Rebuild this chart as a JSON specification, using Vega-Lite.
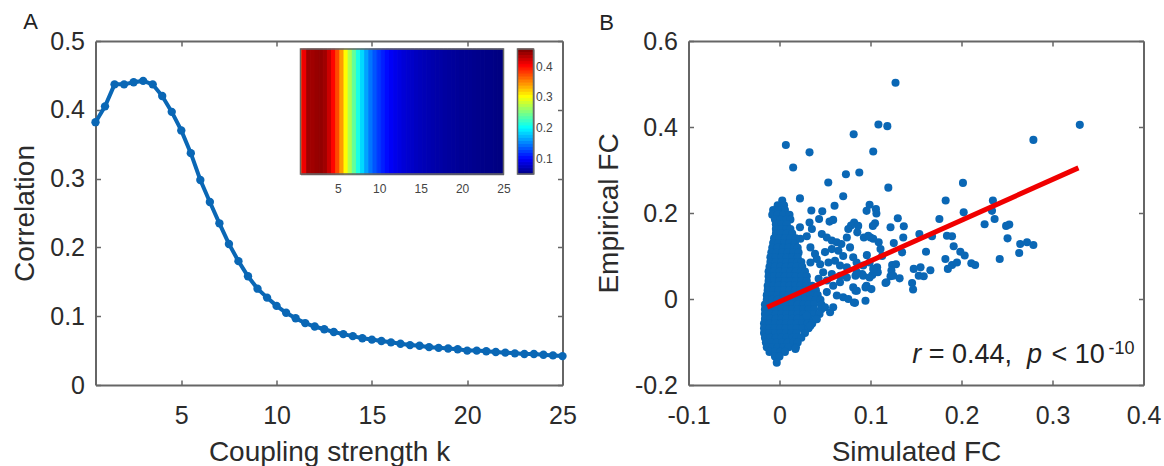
{"$schema":"https://vega.github.io/schema/vega-lite/v6.json","background":"white","padding":{"left":10.5,"top":11,"right":25,"bottom":0},"bounds":"flush","spacing":126,
"config":{"font":"Liberation Sans","view":{"stroke":null},"axis":{"grid":false,"domainColor":"#666","domainWidth":2,"tickColor":"#666","tickWidth":1.5,"labelColor":"#2b2b2b","titleColor":"#2b2b2b","labelFont":"Liberation Sans","titleFont":"Liberation Sans","labelFontSize":25,"titleFontSize":28,"titleFontWeight":"normal","tickSize":-5,"labelPadding":16,"labelFlush":false,"labelOverlap":false}},
"datasets":{
"curve":[{"k":0.5,"lo":0.5,"hi":0.75,"c":0.382},{"k":1,"lo":0.75,"hi":1.25,"c":0.405},{"k":1.5,"lo":1.25,"hi":1.75,"c":0.437},{"k":2,"lo":1.75,"hi":2.25,"c":0.437},{"k":2.5,"lo":2.25,"hi":2.75,"c":0.44},{"k":3,"lo":2.75,"hi":3.25,"c":0.442},{"k":3.5,"lo":3.25,"hi":3.75,"c":0.437},{"k":4,"lo":3.75,"hi":4.25,"c":0.42},{"k":4.5,"lo":4.25,"hi":4.75,"c":0.397},{"k":5,"lo":4.75,"hi":5.25,"c":0.37},{"k":5.5,"lo":5.25,"hi":5.75,"c":0.337},{"k":6,"lo":5.75,"hi":6.25,"c":0.298},{"k":6.5,"lo":6.25,"hi":6.75,"c":0.266},{"k":7,"lo":6.75,"hi":7.25,"c":0.235},{"k":7.5,"lo":7.25,"hi":7.75,"c":0.205},{"k":8,"lo":7.75,"hi":8.25,"c":0.18},{"k":8.5,"lo":8.25,"hi":8.75,"c":0.158},{"k":9,"lo":8.75,"hi":9.25,"c":0.14},{"k":9.5,"lo":9.25,"hi":9.75,"c":0.127},{"k":10,"lo":9.75,"hi":10.25,"c":0.115},{"k":10.5,"lo":10.25,"hi":10.75,"c":0.105},{"k":11,"lo":10.75,"hi":11.25,"c":0.097},{"k":11.5,"lo":11.25,"hi":11.75,"c":0.09},{"k":12,"lo":11.75,"hi":12.25,"c":0.085},{"k":12.5,"lo":12.25,"hi":12.75,"c":0.081},{"k":13,"lo":12.75,"hi":13.25,"c":0.077},{"k":13.5,"lo":13.25,"hi":13.75,"c":0.074},{"k":14,"lo":13.75,"hi":14.25,"c":0.071},{"k":14.5,"lo":14.25,"hi":14.75,"c":0.068},{"k":15,"lo":14.75,"hi":15.25,"c":0.066},{"k":15.5,"lo":15.25,"hi":15.75,"c":0.064},{"k":16,"lo":15.75,"hi":16.25,"c":0.062},{"k":16.5,"lo":16.25,"hi":16.75,"c":0.06},{"k":17,"lo":16.75,"hi":17.25,"c":0.058},{"k":17.5,"lo":17.25,"hi":17.75,"c":0.057},{"k":18,"lo":17.75,"hi":18.25,"c":0.055},{"k":18.5,"lo":18.25,"hi":18.75,"c":0.054},{"k":19,"lo":18.75,"hi":19.25,"c":0.053},{"k":19.5,"lo":19.25,"hi":19.75,"c":0.052},{"k":20,"lo":19.75,"hi":20.25,"c":0.05},{"k":20.5,"lo":20.25,"hi":20.75,"c":0.05},{"k":21,"lo":20.75,"hi":21.25,"c":0.049},{"k":21.5,"lo":21.25,"hi":21.75,"c":0.048},{"k":22,"lo":21.75,"hi":22.25,"c":0.047},{"k":22.5,"lo":22.25,"hi":22.75,"c":0.046},{"k":23,"lo":22.75,"hi":23.25,"c":0.045},{"k":23.5,"lo":23.25,"hi":23.75,"c":0.045},{"k":24,"lo":23.75,"hi":24.25,"c":0.044},{"k":24.5,"lo":24.25,"hi":24.75,"c":0.043},{"k":25,"lo":24.75,"hi":25,"c":0.042}],
"bar":[{"v":0.048,"w":0.058},{"v":0.058,"w":0.068},{"v":0.068,"w":0.078},{"v":0.078,"w":0.088},{"v":0.088,"w":0.098},{"v":0.098,"w":0.108},{"v":0.108,"w":0.118},{"v":0.118,"w":0.128},{"v":0.128,"w":0.138},{"v":0.138,"w":0.148},{"v":0.148,"w":0.158},{"v":0.158,"w":0.168},{"v":0.168,"w":0.178},{"v":0.178,"w":0.188},{"v":0.188,"w":0.198},{"v":0.198,"w":0.208},{"v":0.208,"w":0.218},{"v":0.218,"w":0.228},{"v":0.228,"w":0.238},{"v":0.238,"w":0.248},{"v":0.248,"w":0.258},{"v":0.258,"w":0.268},{"v":0.268,"w":0.278},{"v":0.278,"w":0.288},{"v":0.288,"w":0.298},{"v":0.298,"w":0.308},{"v":0.308,"w":0.318},{"v":0.318,"w":0.328},{"v":0.328,"w":0.338},{"v":0.338,"w":0.348},{"v":0.348,"w":0.358},{"v":0.358,"w":0.368},{"v":0.368,"w":0.378},{"v":0.378,"w":0.388},{"v":0.388,"w":0.398},{"v":0.398,"w":0.408},{"v":0.408,"w":0.418},{"v":0.418,"w":0.428},{"v":0.428,"w":0.438},{"v":0.438,"w":0.448},{"v":0.448,"w":0.456}],
"scatter":[{"x":0.003,"y":0.229},{"x":-0.002,"y":0.218},{"x":0.005,"y":0.218},{"x":-0.007,"y":0.207},{"x":-0.001,"y":0.207},{"x":0.006,"y":0.207},{"x":-0.008,"y":0.196},{"x":-0.002,"y":0.196},{"x":0.004,"y":0.196},{"x":0.011,"y":0.196},{"x":-0.005,"y":0.185},{"x":0.001,"y":0.185},{"x":0.008,"y":0.185},{"x":0.012,"y":0.185},{"x":-0.004,"y":0.174},{"x":0.002,"y":0.174},{"x":0.008,"y":0.174},{"x":-0.004,"y":0.163},{"x":0.002,"y":0.163},{"x":0.008,"y":0.163},{"x":0.012,"y":0.163},{"x":-0.004,"y":0.152},{"x":0.002,"y":0.152},{"x":0.008,"y":0.152},{"x":0.014,"y":0.152},{"x":-0.006,"y":0.141},{"x":0,"y":0.141},{"x":0.006,"y":0.141},{"x":0.012,"y":0.141},{"x":0.018,"y":0.141},{"x":-0.007,"y":0.13},{"x":-0.001,"y":0.13},{"x":0.005,"y":0.13},{"x":0.011,"y":0.13},{"x":0.017,"y":0.13},{"x":-0.008,"y":0.119},{"x":-0.002,"y":0.119},{"x":0.004,"y":0.119},{"x":0.01,"y":0.119},{"x":0.016,"y":0.119},{"x":0.02,"y":0.119},{"x":-0.009,"y":0.108},{"x":-0.003,"y":0.108},{"x":0.003,"y":0.108},{"x":0.009,"y":0.108},{"x":0.015,"y":0.108},{"x":0.021,"y":0.108},{"x":-0.01,"y":0.097},{"x":-0.004,"y":0.097},{"x":0.002,"y":0.097},{"x":0.008,"y":0.097},{"x":0.014,"y":0.097},{"x":0.02,"y":0.097},{"x":-0.01,"y":0.086},{"x":-0.004,"y":0.086},{"x":0.002,"y":0.086},{"x":0.008,"y":0.086},{"x":0.014,"y":0.086},{"x":0.02,"y":0.086},{"x":0.024,"y":0.086},{"x":-0.011,"y":0.075},{"x":-0.005,"y":0.075},{"x":0.001,"y":0.075},{"x":0.007,"y":0.075},{"x":0.013,"y":0.075},{"x":0.019,"y":0.075},{"x":0.025,"y":0.075},{"x":-0.012,"y":0.064},{"x":-0.006,"y":0.064},{"x":0,"y":0.064},{"x":0.006,"y":0.064},{"x":0.012,"y":0.064},{"x":0.018,"y":0.064},{"x":0.024,"y":0.064},{"x":0.028,"y":0.064},{"x":-0.012,"y":0.053},{"x":-0.006,"y":0.053},{"x":0,"y":0.053},{"x":0.006,"y":0.053},{"x":0.012,"y":0.053},{"x":0.018,"y":0.053},{"x":0.024,"y":0.053},{"x":0.03,"y":0.053},{"x":-0.012,"y":0.042},{"x":-0.006,"y":0.042},{"x":0,"y":0.042},{"x":0.006,"y":0.042},{"x":0.012,"y":0.042},{"x":0.018,"y":0.042},{"x":0.024,"y":0.042},{"x":0.03,"y":0.042},{"x":-0.013,"y":0.031},{"x":-0.007,"y":0.031},{"x":-0.001,"y":0.031},{"x":0.005,"y":0.031},{"x":0.011,"y":0.031},{"x":0.017,"y":0.031},{"x":0.023,"y":0.031},{"x":0.029,"y":0.031},{"x":0.036,"y":0.031},{"x":-0.013,"y":0.02},{"x":-0.007,"y":0.02},{"x":-0.001,"y":0.02},{"x":0.005,"y":0.02},{"x":0.011,"y":0.02},{"x":0.017,"y":0.02},{"x":0.023,"y":0.02},{"x":0.029,"y":0.02},{"x":0.035,"y":0.02},{"x":0.04,"y":0.02},{"x":-0.014,"y":0.009},{"x":-0.008,"y":0.009},{"x":-0.002,"y":0.009},{"x":0.004,"y":0.009},{"x":0.01,"y":0.009},{"x":0.016,"y":0.009},{"x":0.022,"y":0.009},{"x":0.028,"y":0.009},{"x":0.034,"y":0.009},{"x":0.042,"y":0.009},{"x":-0.014,"y":-0.002},{"x":-0.008,"y":-0.002},{"x":-0.002,"y":-0.002},{"x":0.004,"y":-0.002},{"x":0.01,"y":-0.002},{"x":0.016,"y":-0.002},{"x":0.022,"y":-0.002},{"x":0.028,"y":-0.002},{"x":0.034,"y":-0.002},{"x":0.04,"y":-0.002},{"x":0.045,"y":-0.002},{"x":-0.016,"y":-0.013},{"x":-0.01,"y":-0.013},{"x":-0.004,"y":-0.013},{"x":0.002,"y":-0.013},{"x":0.008,"y":-0.013},{"x":0.014,"y":-0.013},{"x":0.02,"y":-0.013},{"x":0.026,"y":-0.013},{"x":0.032,"y":-0.013},{"x":0.038,"y":-0.013},{"x":0.046,"y":-0.013},{"x":-0.016,"y":-0.024},{"x":-0.01,"y":-0.024},{"x":-0.004,"y":-0.024},{"x":0.002,"y":-0.024},{"x":0.008,"y":-0.024},{"x":0.014,"y":-0.024},{"x":0.02,"y":-0.024},{"x":0.026,"y":-0.024},{"x":0.032,"y":-0.024},{"x":0.038,"y":-0.024},{"x":0.046,"y":-0.024},{"x":-0.016,"y":-0.035},{"x":-0.01,"y":-0.035},{"x":-0.004,"y":-0.035},{"x":0.002,"y":-0.035},{"x":0.008,"y":-0.035},{"x":0.014,"y":-0.035},{"x":0.02,"y":-0.035},{"x":0.026,"y":-0.035},{"x":0.032,"y":-0.035},{"x":0.038,"y":-0.035},{"x":0.044,"y":-0.035},{"x":-0.016,"y":-0.046},{"x":-0.01,"y":-0.046},{"x":-0.004,"y":-0.046},{"x":0.002,"y":-0.046},{"x":0.008,"y":-0.046},{"x":0.014,"y":-0.046},{"x":0.02,"y":-0.046},{"x":0.026,"y":-0.046},{"x":0.032,"y":-0.046},{"x":0.04,"y":-0.046},{"x":-0.017,"y":-0.057},{"x":-0.011,"y":-0.057},{"x":-0.005,"y":-0.057},{"x":0.001,"y":-0.057},{"x":0.007,"y":-0.057},{"x":0.013,"y":-0.057},{"x":0.019,"y":-0.057},{"x":0.025,"y":-0.057},{"x":0.031,"y":-0.057},{"x":0.036,"y":-0.057},{"x":-0.017,"y":-0.068},{"x":-0.011,"y":-0.068},{"x":-0.005,"y":-0.068},{"x":0.001,"y":-0.068},{"x":0.007,"y":-0.068},{"x":0.013,"y":-0.068},{"x":0.019,"y":-0.068},{"x":0.025,"y":-0.068},{"x":0.032,"y":-0.068},{"x":-0.017,"y":-0.079},{"x":-0.011,"y":-0.079},{"x":-0.005,"y":-0.079},{"x":0.001,"y":-0.079},{"x":0.007,"y":-0.079},{"x":0.013,"y":-0.079},{"x":0.019,"y":-0.079},{"x":0.028,"y":-0.079},{"x":-0.016,"y":-0.09},{"x":-0.01,"y":-0.09},{"x":-0.004,"y":-0.09},{"x":0.002,"y":-0.09},{"x":0.008,"y":-0.09},{"x":0.014,"y":-0.09},{"x":0.019,"y":-0.09},{"x":0.024,"y":-0.09},{"x":-0.015,"y":-0.101},{"x":-0.009,"y":-0.101},{"x":-0.003,"y":-0.101},{"x":0.003,"y":-0.101},{"x":0.009,"y":-0.101},{"x":0.015,"y":-0.101},{"x":0.02,"y":-0.101},{"x":-0.014,"y":-0.112},{"x":-0.008,"y":-0.112},{"x":-0.002,"y":-0.112},{"x":0.004,"y":-0.112},{"x":0.01,"y":-0.112},{"x":0.018,"y":-0.112},{"x":-0.011,"y":-0.123},{"x":-0.005,"y":-0.123},{"x":0.001,"y":-0.123},{"x":0.006,"y":-0.123},{"x":-0.005,"y":-0.134},{"x":0,"y":-0.134},{"x":-0.003,"y":-0.148},{"x":0.1275,"y":0.503},{"x":0.1087,"y":0.406},{"x":0.1185,"y":0.402},{"x":0.0815,"y":0.383},{"x":0.007,"y":0.358},{"x":0.033,"y":0.341},{"x":0.103,"y":0.343},{"x":0.015,"y":0.306},{"x":0.073,"y":0.29},{"x":0.0877,"y":0.294},{"x":0.0536,"y":0.271},{"x":0.1196,"y":0.259},{"x":0.07,"y":0.239},{"x":0.0225,"y":0.234},{"x":0.0605,"y":0.217},{"x":0.099,"y":0.219},{"x":0.0957,"y":0.205},{"x":0.106,"y":0.209},{"x":0.1065,"y":0.199},{"x":0.035,"y":0.206},{"x":0.047,"y":0.204},{"x":0.0435,"y":0.186},{"x":0.13,"y":0.188},{"x":0.033,"y":0.178},{"x":0.055,"y":0.18},{"x":0.059,"y":0.184},{"x":0.082,"y":0.178},{"x":0.0786,"y":0.171},{"x":0.105,"y":0.176},{"x":0.122,"y":0.167},{"x":0.1366,"y":0.169},{"x":0.0225,"y":0.167},{"x":0.33,"y":0.405},{"x":0.279,"y":0.37},{"x":0.2016,"y":0.27},{"x":0.1826,"y":0.229},{"x":0.1026,"y":0.17},{"x":0.0855,"y":0.155},{"x":0.136,"y":0.143},{"x":0.1757,"y":0.186},{"x":0.2024,"y":0.2015},{"x":0.2345,"y":0.229},{"x":0.2335,"y":0.205},{"x":0.2364,"y":0.186},{"x":0.2254,"y":0.174},{"x":0.249,"y":0.17},{"x":0.2525,"y":0.173},{"x":0.2506,"y":0.141},{"x":0.2645,"y":0.128},{"x":0.272,"y":0.132},{"x":0.279,"y":0.1256},{"x":0.2634,"y":0.107},{"x":0.242,"y":0.093},{"x":0.1537,"y":0.151},{"x":0.1676,"y":0.146},{"x":0.184,"y":0.147},{"x":0.1896,"y":0.146},{"x":0.1914,"y":0.1225},{"x":0.161,"y":0.11},{"x":0.1987,"y":0.11},{"x":0.2035,"y":0.101},{"x":0.1823,"y":0.093},{"x":0.185,"y":0.07},{"x":0.1896,"y":0.079},{"x":0.195,"y":0.085},{"x":0.2108,"y":0.083},{"x":0.215,"y":0.079},{"x":0.1658,"y":0.067},{"x":0.155,"y":0.0736},{"x":0.1475,"y":0.07},{"x":0.153,"y":0.054},{"x":0.1585,"y":0.053},{"x":0.1457,"y":0.037},{"x":0.1468,"y":0.022},{"x":0.1238,"y":0.079},{"x":0.123,"y":0.066},{"x":0.122,"y":0.053},{"x":0.132,"y":0.048},{"x":0.1165,"y":0.037},{"x":0.1073,"y":0.074},{"x":0.1256,"y":0.13},{"x":0.1347,"y":0.1085},{"x":0.1128,"y":0.1},{"x":0.096,"y":0.102},{"x":0.109,"y":0.132},{"x":0.111,"y":0.116},{"x":0.0927,"y":0.143},{"x":0.1,"y":0.143},{"x":0.0835,"y":0.054},{"x":0.0908,"y":0.058},{"x":0.102,"y":0.056},{"x":0.0945,"y":0.027},{"x":0.0835,"y":0.019},{"x":0.0945,"y":-0.004},{"x":0.0817,"y":-0.008},{"x":0.0356,"y":0.163},{"x":0.0756,"y":0.163},{"x":0.0865,"y":0.17},{"x":0.0465,"y":0.151},{"x":0.052,"y":0.143},{"x":0.0575,"y":0.136},{"x":0.0629,"y":0.132},{"x":0.03,"y":0.146},{"x":0.023,"y":0.14},{"x":0.034,"y":0.12},{"x":0.068,"y":0.128},{"x":0.074,"y":0.143},{"x":0.0975,"y":0.147},{"x":0.103,"y":0.14},{"x":0.039,"y":0.105},{"x":0.041,"y":0.093},{"x":0.034,"y":0.085},{"x":0.05,"y":0.109},{"x":0.0575,"y":0.116},{"x":0.0647,"y":0.112},{"x":0.07,"y":0.1},{"x":0.0775,"y":0.12},{"x":0.081,"y":0.097},{"x":0.0847,"y":0.085},{"x":0.0447,"y":0.081},{"x":0.0538,"y":0.085},{"x":0.061,"y":0.089},{"x":0.0665,"y":0.078},{"x":0.074,"y":0.074},{"x":0.099,"y":0.085},{"x":0.092,"y":0.078},{"x":0.108,"y":0.062},{"x":0.085,"y":0.062},{"x":0.092,"y":0.054},{"x":0.099,"y":0.05},{"x":0.103,"y":0.07},{"x":0.048,"y":0.062},{"x":0.0575,"y":0.058},{"x":0.0665,"y":0.054},{"x":0.074,"y":0.05},{"x":0.052,"y":0.043},{"x":0.059,"y":0.031},{"x":0.043,"y":0.047},{"x":0.0665,"y":0.039},{"x":0.081,"y":0.027},{"x":0.085,"y":0.019},{"x":0.0956,"y":0.031},{"x":0.101,"y":0.023},{"x":0.1175,"y":0.039},{"x":0.125,"y":0.054},{"x":0.128,"y":0.081},{"x":0.052,"y":0.016},{"x":0.063,"y":0.008},{"x":0.07,"y":0.004},{"x":0.0756,"y":0},{"x":0.083,"y":-0.009},{"x":0.05,"y":-0.019},{"x":0.059,"y":-0.019},{"x":0.0556,"y":-0.031},{"x":0.041,"y":-0.047},{"x":0.03,"y":-0.039},{"x":0.034,"y":-0.062},{"x":0.0175,"y":-0.116}]
},
"hconcat":[
{"width":467,"height":344,"resolve":{"scale":{"x":"independent","y":"independent"},"axis":{"x":"independent","y":"independent"}},
"layer":[
{"encoding":{"x":{"field":"k","type":"quantitative","scale":{"domain":[0.5,25],"nice":false},"axis":{"values":[5,10,15,20,25],"title":"Coupling strength k","titlePadding":10,"labelPadding":23}},"y":{"field":"c","type":"quantitative","scale":{"domain":[0,0.5],"nice":false},"axis":{"values":[0,0.1,0.2,0.3,0.4,0.5],"labelExpr":"''+datum.value","title":"Correlation","titlePadding":10.7}}},
"layer":[
{"data":{"name":"curve"},"mark":{"type":"line","color":"#0a67b5","strokeWidth":4,"clip":false}},
{"data":{"name":"curve"},"mark":{"type":"point","filled":true,"color":"#0a67b5","opacity":1,"size":70,"clip":false}}
]},
{"data":{"name":"curve"},"mark":{"type":"point","opacity":0},"encoding":{"x":{"field":"k","type":"quantitative","scale":{"domain":[0.5,25],"nice":false},"axis":{"orient":"top","values":[5,10,15,20,25],"labels":false,"title":null}},"y":{"field":"c","type":"quantitative","scale":{"domain":[0,0.5],"nice":false},"axis":{"orient":"right","values":[0,0.1,0.2,0.3,0.4,0.5],"labels":false,"title":null}}}},
{"data":{"values":[{"t":"A","x":-2.9,"y":0.527}]},"mark":{"type":"text","align":"center","baseline":"middle","fontSize":22,"color":"#222"},"encoding":{"text":{"field":"t"},"x":{"field":"x","type":"quantitative","scale":{"domain":[0.5,25],"nice":false},"axis":null},"y":{"field":"y","type":"quantitative","scale":{"domain":[0,0.5],"nice":false},"axis":null}}},
{"encoding":{"x":{"field":"lo","type":"quantitative","scale":{"domain":[0.5,25],"nice":false,"range":[205,408]},"axis":{"orient":"bottom","offset":-211,"values":[5,10,15,20,25],"title":null,"labelFontSize":12,"labelColor":"#444","tickSize":0,"labelPadding":9,"domainWidth":1.5}},"x2":{"field":"hi"},"y":{"field":"top","type":"quantitative","scale":{"domain":[0,1],"range":[133,8]},"axis":null},"y2":{"field":"bottom"}},
"layer":[
{"data":{"name":"curve"},"transform":[{"calculate":"0","as":"bottom"},{"calculate":"1","as":"top"}],"mark":{"type":"rect","strokeWidth":1},"encoding":{"color":{"field":"c","type":"quantitative","legend":null,"scale":{"domain":[0.042,0.093,0.195,0.246,0.297,0.399,0.45],"range":["#00007f","#0000ff","#00ffff","#7fff7f","#ffff00","#ff0000","#7f0000"],"interpolate":"rgb"}},"stroke":{"field":"c","type":"quantitative","legend":null,"scale":{"domain":[0.042,0.093,0.195,0.246,0.297,0.399,0.45],"range":["#00007f","#0000ff","#00ffff","#7fff7f","#ffff00","#ff0000","#7f0000"],"interpolate":"rgb"}}}},
{"data":{"values":[{"lo":0.5,"hi":25,"bottom":0,"top":1}]},"mark":{"type":"rect","fill":null,"stroke":"#666","strokeWidth":1.5}}
]},
{"encoding":{"x":{"field":"left","type":"quantitative","scale":{"domain":[0,1],"range":[422,438]},"axis":null},"x2":{"field":"right"},"y":{"field":"v","type":"quantitative","scale":{"domain":[0.048,0.456],"nice":false,"range":[133,8]},"axis":{"orient":"right","offset":-29,"values":[0.1,0.2,0.3,0.4],"title":null,"labelFontSize":12,"labelColor":"#444","tickSize":0,"labelPadding":2,"domainWidth":1,"labelExpr":"''+datum.value"}},"y2":{"field":"w"}},
"layer":[
{"data":{"name":"bar"},"transform":[{"calculate":"0","as":"left"},{"calculate":"1","as":"right"}],"mark":{"type":"rect","strokeWidth":1},"encoding":{"color":{"field":"v","type":"quantitative","legend":null,"scale":{"domain":[0.042,0.093,0.195,0.246,0.297,0.399,0.45],"range":["#00007f","#0000ff","#00ffff","#7fff7f","#ffff00","#ff0000","#7f0000"],"interpolate":"rgb"}},"stroke":{"field":"v","type":"quantitative","legend":null,"scale":{"domain":[0.042,0.093,0.195,0.246,0.297,0.399,0.45],"range":["#00007f","#0000ff","#00ffff","#7fff7f","#ffff00","#ff0000","#7f0000"],"interpolate":"rgb"}}}},
{"data":{"values":[{"left":0,"right":1,"v":0.048,"w":0.456}]},"mark":{"type":"rect","fill":null,"stroke":"#666","strokeWidth":1.5}}
]}
]},
{"width":455,"height":344,"resolve":{"scale":{"x":"independent","y":"independent"},"axis":{"x":"independent","y":"independent"}},
"layer":[
{"encoding":{"x":{"field":"x","type":"quantitative","scale":{"domain":[-0.1,0.4],"nice":false},"axis":{"values":[-0.1,0,0.1,0.2,0.3,0.4],"labelExpr":"''+datum.value","title":"Simulated FC","titlePadding":10,"labelPadding":23}},"y":{"field":"y","type":"quantitative","scale":{"domain":[-0.2,0.6],"nice":false},"axis":{"values":[-0.2,0,0.2,0.4,0.6],"labelExpr":"''+datum.value","title":"Empirical FC","titlePadding":10.5}}},
"layer":[
{"data":{"name":"scatter"},"mark":{"type":"point","filled":true,"color":"#0a67b5","opacity":1,"size":65,"clip":false}},
{"data":{"values":[{"x":-0.0135,"y":-0.019},{"x":0.3285,"y":0.305}]},"mark":{"type":"line","color":"#f00000","strokeWidth":5,"clip":false}},
{"data":{"values":[{"x":0.146,"y":-0.149,"t":"r"},{"x":0.272,"y":-0.149,"t":"p"}]},"mark":{"type":"text","align":"left","baseline":"alphabetic","fontSize":27,"fontStyle":"italic","color":"#222"},"encoding":{"text":{"field":"t"}}},
{"data":{"values":[{"x":0.164,"y":-0.149,"t":"= 0.44,"},{"x":0.2989,"y":-0.149,"t":"< 10"}]},"mark":{"type":"text","align":"left","baseline":"alphabetic","fontSize":27,"color":"#222"},"encoding":{"text":{"field":"t"}}},
{"data":{"values":[{"x":0.3615,"y":-0.128,"t":"-10"}]},"mark":{"type":"text","align":"left","baseline":"alphabetic","fontSize":18,"color":"#222"},"encoding":{"text":{"field":"t"}}},
{"data":{"values":[{"x":-0.19,"y":0.642,"t":"B"}]},"mark":{"type":"text","align":"center","baseline":"middle","fontSize":22,"color":"#222"},"encoding":{"text":{"field":"t"}}}
]},
{"data":{"values":[{"x":0,"y":0}]},"mark":{"type":"point","opacity":0},"encoding":{"x":{"field":"x","type":"quantitative","scale":{"domain":[-0.1,0.4],"nice":false},"axis":{"orient":"top","values":[-0.1,0,0.1,0.2,0.3,0.4],"labels":false,"title":null}},"y":{"field":"y","type":"quantitative","scale":{"domain":[-0.2,0.6],"nice":false},"axis":{"orient":"right","values":[-0.2,0,0.2,0.4,0.6],"labels":false,"title":null}}}}
]}
]}
